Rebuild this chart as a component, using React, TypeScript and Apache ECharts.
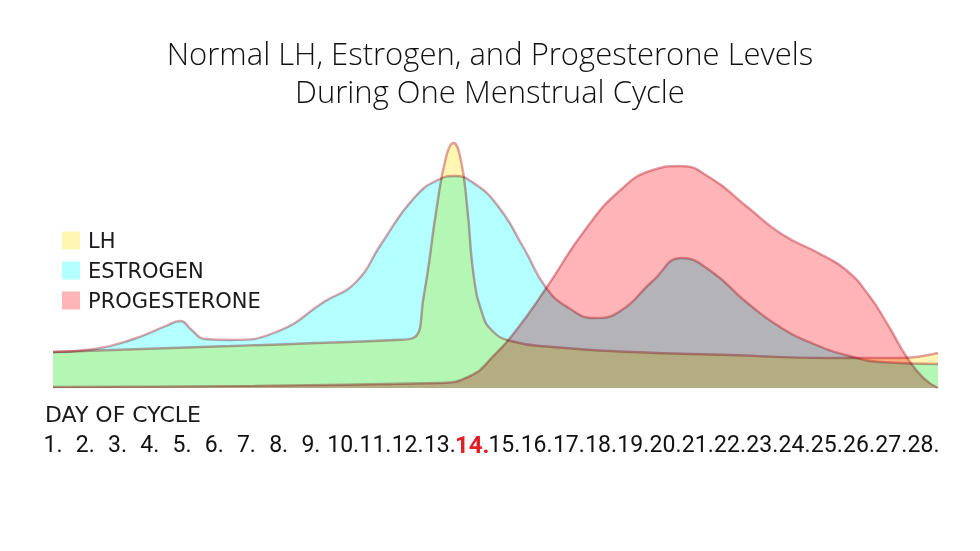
import React, { useEffect, useRef } from "react";
import * as echarts from "echarts";

// [day, level] points
const lhPoints: [number, number][] = [
  [1, 36], [6.5, 42], [11.6, 48], [12.17, 50], [12.5, 92], [12.9, 180], [13.2, 232],
  [13.42, 245], [13.65, 228], [13.85, 180], [14.05, 112], [14.3, 76], [14.6, 58],
  [15.2, 47], [16.5, 41], [19, 36], [22, 33], [25, 30], [27.2, 30], [28.45, 35],
];
const estrogenPoints: [number, number][] = [
  [1, 36], [2.3, 39], [3.5, 49], [4.5, 62], [4.95, 67], [5.3, 58], [5.7, 49], [6.5, 48],
  [8, 57], [9.4, 86], [10.4, 106], [11.2, 145], [12.2, 190], [13.0, 209], [13.45, 212],
  [14.0, 206], [14.8, 182], [15.6, 140], [16.3, 100], [17.0, 80], [17.8, 70], [18.6, 77],
  [19.6, 107], [20.5, 130], [21.4, 117], [22.5, 86], [23.6, 60], [24.6, 44], [25.7, 32],
  [26.7, 26], [28.45, 24],
];
const progesteronePoints: [number, number][] = [
  [1, 1], [13, 5], [14, 13], [14.6, 30], [15.3, 55], [16.3, 100], [17.5, 158],
  [18.6, 198], [19.6, 218], [20.45, 222], [21.4, 210], [22.5, 182], [23.6, 154],
  [24.8, 134], [25.6, 118], [26.3, 93], [26.9, 63], [27.5, 30], [28, 10], [28.45, 0],
];
const seriesNames = ["LH", "ESTROGEN", "PROGESTERONE"];
const fillColors = ["#fff6b4", "#b4ffff", "#ffb4b8"];
const highlightDay = 14;
const titleText = "Normal LH, Estrogen, and Progesterone Levels\nDuring One Menstrual Cycle";
const axisTitle = "DAY OF CYCLE";

export default function App() {
  const ref = useRef<HTMLDivElement>(null);
  useEffect(() => {
    if (!ref.current) return;
    const chart = echarts.init(ref.current, undefined, { renderer: "svg" });
    const datasets = [lhPoints, estrogenPoints, progesteronePoints];
    chart.setOption({
      animation: false,
      title: [
        {
          text: titleText,
          left: "center",
          top: 34,
          padding: 0,
          textStyle: {
            fontFamily: "Open Sans",
            fontSize: 31,
            fontWeight: 300,
            lineHeight: 38,
            color: "#111",
          },
        },
        {
          text: axisTitle,
          left: 45,
          top: 403,
          padding: 0,
          textStyle: {
            fontFamily: "DejaVu Sans",
            fontSize: 22,
            fontWeight: "normal",
            color: "#1a1a1a",
          },
        },
      ],
      legend: {
        orient: "vertical",
        left: 62,
        top: 230,
        padding: 0,
        itemWidth: 18,
        itemHeight: 18,
        itemGap: 9,
        icon: "rect",
        itemStyle: { borderWidth: 0 },
        textStyle: { fontFamily: "DejaVu Sans", fontSize: 21, color: "#1a1a1a", padding: [0, 0, 0, 3] },
        data: seriesNames,
      },
      grid: { left: 53, right: 42, top: 88, bottom: 163 },
      xAxis: {
        type: "value",
        min: 1,
        max: 28.45,
        interval: 1,
        axisLine: { show: false },
        axisTick: { show: false },
        splitLine: { show: false },
        axisLabel: {
          margin: 45,
          fontFamily: "Roboto",
          fontSize: 23,
          color: "#111",
          formatter: (v: number) => {
            if (Math.abs(v - Math.round(v)) > 1e-6) return "";
            if (Math.round(v) === highlightDay) return "{hl|" + v + ".}";
            return v + ".";
          },
          rich: {
            hl: { fontFamily: "Roboto", fontSize: 24, fontWeight: "bold", color: "#e41e26" },
          },
        },
      },
      yAxis: {
        type: "value",
        min: 0,
        max: 300,
        show: false,
      },
      series: datasets.map((d, i) => ({
        name: seriesNames[i],
        type: "line",
        data: d,
        smooth: 0.5,
        clip: false,
        showSymbol: false,
        symbol: "none",
        color: fillColors[i],
        itemStyle: { color: fillColors[i] },
        lineStyle: { color: "#d98a92", width: 2.4, opacity: 0.8 },
        areaStyle: { color: fillColors[i], opacity: 1, origin: "start" },
        z: 2 + i,
      })),
    });
    // overlapping hormone areas mix like transparent films (multiply)
    const root = ref.current;
    root.querySelectorAll("[clip-path]").forEach((el) => el.removeAttribute("clip-path"));
    root.querySelectorAll("path").forEach((p) => {
      (p as SVGElement).style.mixBlendMode = "multiply";
    });
    return () => chart.dispose();
  }, []);
  return (
    <div
      ref={ref}
      style={{ position: "fixed", left: 0, top: 0, width: 980, height: 551, background: "#fff" }}
    />
  );
}
